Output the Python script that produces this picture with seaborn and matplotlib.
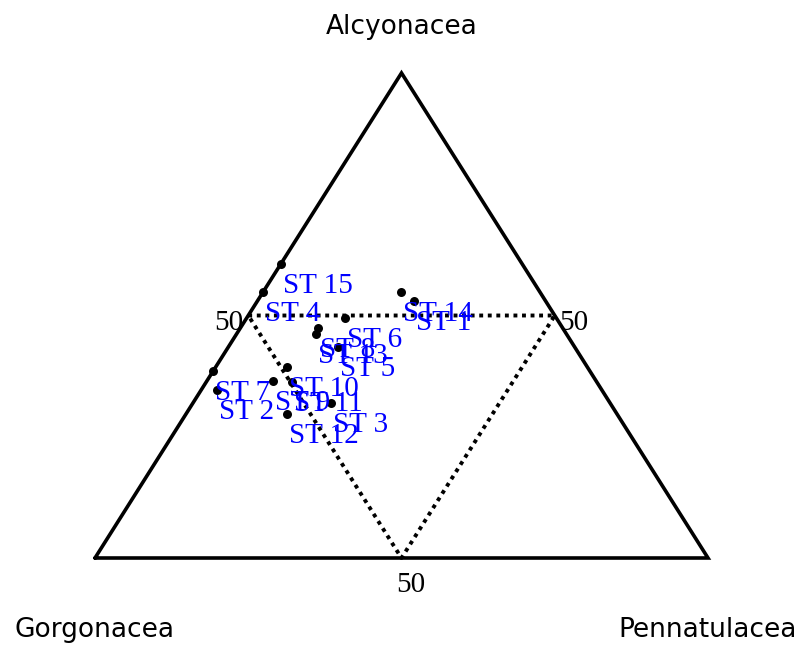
import numpy as np
import pandas as pd
import matplotlib
matplotlib.use("Agg")
import matplotlib.pyplot as plt
import seaborn as sns

# composition (%) of each station
stations = ["ST 1", "ST 2", "ST 3", "ST 4", "ST 5", "ST 6", "ST 7", "ST 8",
            "ST 9", "ST 10", "ST 11", "ST 12", "ST 13", "ST 14", "ST 15"]
alcyonacea = [53.0, 34.6, 32.0, 54.8, 43.5, 49.5, 38.6, 47.4,
              36.5, 39.4, 36.3, 29.7, 46.2, 54.8, 60.6]
gorgonacea = [21.5, 62.8, 45.5, 45.2, 38.6, 34.5, 61.4, 39.9,
              52.7, 49.0, 49.7, 53.8, 40.9, 22.7, 39.4]
pennatulacea = [25.5, 2.6, 22.5, 0.0, 17.9, 16.0, 0.0, 12.7,
                10.8, 11.6, 14.0, 16.5, 12.9, 22.5, 0.0]
axis_names = ["Alcyonacea", "Gorgonacea", "Pennatulacea"]
mid_label = "50"


def to_xy(a, g, p):
    """ternary -> cartesian (left corner = Gorgonacea, right = Pennatulacea)"""
    tot = a + g + p
    a, p = a / tot, p / tot
    return p + a / 2, a


df = pd.DataFrame({"station": stations, "A": alcyonacea,
                   "G": gorgonacea, "P": pennatulacea})
df["x"], df["y"] = to_xy(df["A"].values, df["G"].values, df["P"].values)

sns.set_style("white")
fig = plt.figure(figsize=(8.02, 6.48), dpi=100)
ax = fig.add_axes([0, 0, 1, 1])
ax.set_xlim(-95 / 613, 707 / 613)
ax.set_ylim(-90 / 485, 558 / 485)
ax.axis("off")

# outer triangle
corners = np.array([to_xy(0, 1, 0), to_xy(0, 0, 1), to_xy(1, 0, 0), to_xy(0, 1, 0)])
ax.plot(corners[:, 0], corners[:, 1], color="black", lw=2.6, solid_joinstyle="miter")

# inner dotted triangle through the 50 % points
mids = np.array([to_xy(50, 50, 0), to_xy(50, 0, 50), to_xy(0, 50, 50), to_xy(50, 50, 0)])
ax.plot(mids[:, 0], mids[:, 1], color="black", lw=2.8, linestyle=(0, (1, 1.2)),
        dash_capstyle="butt")

sns.scatterplot(data=df, x="x", y="y", color="black", s=42, edgecolor="black",
                linewidth=0, ax=ax, legend=False, zorder=3)

for _, r in df.iterrows():
    ax.annotate(r["station"], (r["x"], r["y"]), xytext=(1.5, -16), textcoords="offset points",
                ha="left", va="center", color="blue", fontsize=21,
                family="Liberation Serif", zorder=4)

serif = dict(fontsize=21, family="Liberation Serif", color="black")
lx, ly = to_xy(50, 50, 0)
ax.text(lx - 0.008, ly - 0.016, mid_label, ha="right", va="center", **serif)
rx, ry = to_xy(50, 0, 50)
ax.text(rx + 0.008, ry - 0.016, mid_label, ha="left", va="center", **serif)
bx, by = to_xy(0, 50, 50)
ax.text(bx + 0.015, by - 0.055, mid_label, ha="center", va="center", **serif)

sans = dict(fontsize=19, family="DejaVu Sans", color="black")
ax.text(0.5, 1.095, axis_names[0], ha="center", va="center", **sans)
ax.text(0.0, -0.148, axis_names[1], ha="center", va="center", **sans)
ax.text(1.0, -0.148, axis_names[2], ha="center", va="center", **sans)

fig.savefig("out.png", dpi=100)
